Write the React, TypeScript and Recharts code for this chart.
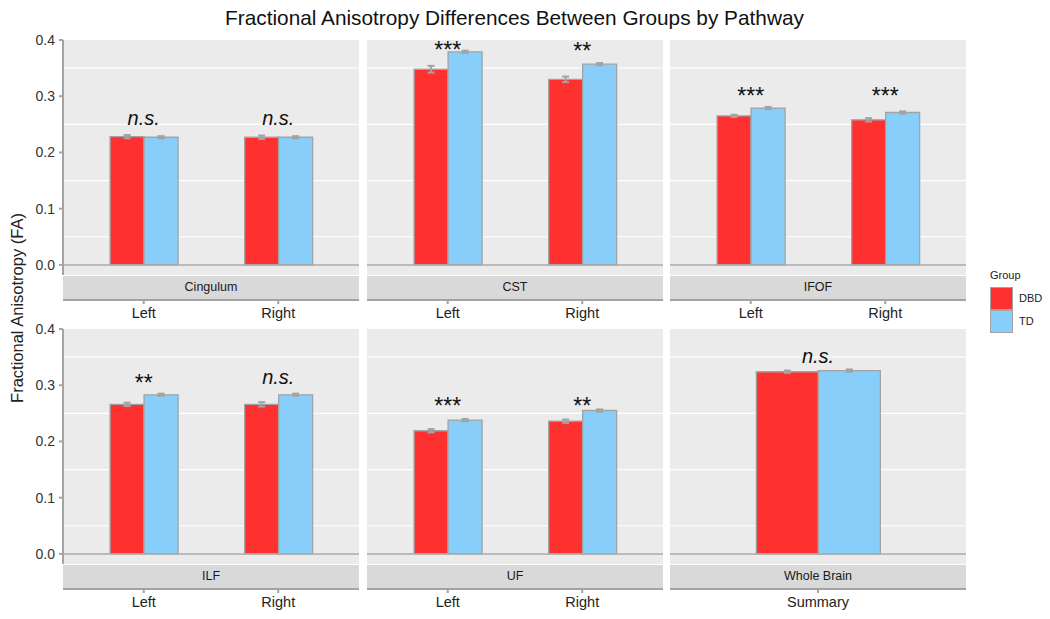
import React from "react";
import {
  Bar,
  BarChart,
  CartesianGrid,
  ErrorBar,
  ReferenceDot,
  ReferenceLine,
  XAxis,
  YAxis,
} from "recharts";

// facet order as in the figure (3 columns, 2 rows)
const PATHWAYS = ["Cingulum", "CST", "IFOF", "ILF", "UF", "Whole Brain"];
const SIDES = [
  ["Left", "Right"],
  ["Left", "Right"],
  ["Left", "Right"],
  ["Left", "Right"],
  ["Left", "Right"],
  ["Summary"],
];
const DBD_MEAN = [
  [0.228, 0.227],
  [0.348, 0.33],
  [0.265, 0.258],
  [0.266, 0.266],
  [0.219, 0.236],
  [0.324],
];
const TD_MEAN = [
  [0.227, 0.227],
  [0.379, 0.357],
  [0.279, 0.271],
  [0.283, 0.283],
  [0.238, 0.255],
  [0.326],
];
const DBD_SE = [
  [0.003, 0.003],
  [0.006, 0.005],
  [0.002, 0.003],
  [0.003, 0.004],
  [0.003, 0.003],
  [0.002],
];
const TD_SE = [
  [0.002, 0.002],
  [0.002, 0.002],
  [0.002, 0.002],
  [0.002, 0.002],
  [0.002, 0.002],
  [0.002],
];
const SIG_LABEL = [
  ["n.s.", "n.s."],
  ["***", "**"],
  ["***", "***"],
  ["**", "n.s."],
  ["***", "**"],
  ["n.s."],
];
const SIG_Y = [
  [0.258, 0.258],
  [0.391, 0.389],
  [0.31, 0.31],
  [0.313, 0.312],
  [0.272, 0.272],
  [0.348],
];
const Y_TICKS = [0, 0.1, 0.2, 0.3, 0.4];
const MINOR_GRID = [0.05, 0.15, 0.25, 0.35];
const GROUPS = ["DBD", "TD"];

const FONT = '"Liberation Sans", Arial, Helvetica, sans-serif';
const RED = "#FF3030";
const BLUE = "#87CEFA";
const OUTLINE = "#A3A3A3";
const PANEL_W = 296;
const PANEL_H = 235;
const COL_X = [63, 367, 670];
const ROW_Y = [40, 329];
const Y_AXIS_W = 63;
const X_AXIS_H = 52;
const TOP_PAD = 10;

function SideTick(props: any) {
  const { x, y, payload } = props;
  return (
    <g>
      <line x1={x} x2={x} y1={y + 25} y2={y + 29} stroke={OUTLINE} strokeWidth={2} />
      <text
        x={x}
        y={y + 38}
        textAnchor="middle"
        dominantBaseline="central"
        fontSize={14.5}
        fontFamily={FONT}
        fill="#222"
      >
        {payload.value}
      </text>
    </g>
  );
}

function SigText(props: any) {
  const { viewBox, text } = props;
  const stars = text.indexOf("*") >= 0;
  const fs = stars ? 23 : 20;
  return (
    <text
      x={viewBox.x}
      y={viewBox.y + (stars ? 0.57 : 0.26) * fs}
      textAnchor="middle"
      fontSize={fs}
      fontStyle={stars ? "normal" : "italic"}
      fontFamily={FONT}
      fill="#111"
    >
      {text}
    </text>
  );
}

function Panel({ idx }: { idx: number }) {
  const col = idx % 3;
  const row = Math.floor(idx / 3);
  const showY = col === 0;
  const single = SIDES[idx].length === 1;
  const data = SIDES[idx].map((side, i) => ({
    side,
    dbd: DBD_MEAN[idx][i],
    td: TD_MEAN[idx][i],
    dbdSe: DBD_SE[idx][i],
    tdSe: TD_SE[idx][i],
  }));
  // ggplot discrete expansion of 0.6 units on each side
  const unit = PANEL_W / (SIDES[idx].length - 1 + 1.2);
  const pad = single ? 0 : unit * 0.1;
  const left = showY ? 0 : COL_X[col];
  const width = showY ? Y_AXIS_W + PANEL_W : PANEL_W;

  return (
    <div style={{ position: "absolute", left, top: ROW_Y[row] - TOP_PAD }}>
      <BarChart
        width={width}
        height={TOP_PAD + PANEL_H + X_AXIS_H}
        data={data}
        margin={{ top: TOP_PAD, right: 0, bottom: 0, left: 0 }}
        barGap={0}
        barCategoryGap={single ? "29.17%" : "25%"}
      >
        <CartesianGrid
          vertical={false}
          horizontalValues={MINOR_GRID}
          stroke="#FFFFFF"
          strokeWidth={1.2}
          fill="#EBEBEB"
        />
        <XAxis
          dataKey="side"
          type="category"
          height={X_AXIS_H}
          padding={{ left: pad, right: pad }}
          axisLine={false}
          tickLine={false}
          tickSize={0}
          tickMargin={0}
          interval={0}
          tick={<SideTick />}
        />
        <YAxis
          hide={!showY}
          width={showY ? Y_AXIS_W : 0}
          domain={[-0.018, 0.4]}
          allowDataOverflow
          ticks={Y_TICKS}
          tickFormatter={(v: number) => v.toFixed(1)}
          axisLine={{ stroke: OUTLINE, strokeWidth: 2 }}
          tickLine={{ stroke: OUTLINE, strokeWidth: 2 }}
          tickSize={4}
          tickMargin={4}
          tick={{ fontSize: 14, fill: "#333", fontFamily: FONT }}
        />
        <ReferenceLine y={0} stroke="#ABABAB" strokeWidth={1.5} />
        <Bar dataKey="dbd" fill={RED} stroke={OUTLINE} strokeWidth={1.3} isAnimationActive={false}>
          <ErrorBar dataKey="dbdSe" width={3.5} stroke={OUTLINE} strokeWidth={2} />
        </Bar>
        <Bar dataKey="td" fill={BLUE} stroke={OUTLINE} strokeWidth={1.3} isAnimationActive={false}>
          <ErrorBar dataKey="tdSe" width={3.5} stroke={OUTLINE} strokeWidth={2} />
        </Bar>
        {SIDES[idx].map((side, i) => (
          <ReferenceDot
            key={side}
            x={side}
            y={SIG_Y[idx][i]}
            r={0}
            fill="none"
            stroke="none"
            label={<SigText text={SIG_LABEL[idx][i]} />}
          />
        ))}
      </BarChart>
      <div
        style={{
          position: "absolute",
          left: showY ? Y_AXIS_W : 0,
          top: TOP_PAD + PANEL_H + 1,
          width: PANEL_W,
          height: 23,
          lineHeight: "23px",
          background: "#D9D9D9",
          borderBottom: `2px solid ${OUTLINE}`,
          textAlign: "center",
          fontSize: 12.5,
          color: "#1A1A1A",
        }}
      >
        {PATHWAYS[idx]}
      </div>
    </div>
  );
}

export default function App() {
  return (
    <div
      style={{
        position: "absolute",
        left: 0,
        top: 0,
        width: 1050,
        height: 619,
        background: "#fff",
        fontFamily: FONT,
        overflow: "hidden",
      }}
    >
      <div
        style={{
          position: "absolute",
          left: COL_X[0],
          top: 6,
          width: COL_X[2] + PANEL_W - COL_X[0],
          textAlign: "center",
          fontSize: 20.8,
          lineHeight: "24px",
          color: "#111",
        }}
      >
        Fractional Anisotropy Differences Between Groups by Pathway
      </div>
      <div
        style={{
          position: "absolute",
          left: 17 - 160,
          top: 308 - 11,
          width: 320,
          height: 22,
          lineHeight: "22px",
          textAlign: "center",
          fontSize: 16.5,
          color: "#222",
          transform: "rotate(-90deg)",
        }}
      >
        Fractional Anisotropy (FA)
      </div>
      {PATHWAYS.map((p, i) => (
        <Panel key={p} idx={i} />
      ))}
      <div style={{ position: "absolute", left: 990, top: 267, fontSize: 11, lineHeight: "16px", color: "#222" }}>
        Group
      </div>
      {GROUPS.map((g, i) => (
        <React.Fragment key={g}>
          <div
            style={{
              position: "absolute",
              left: 990,
              top: 287 + i * 23,
              width: 23,
              height: 23,
              boxSizing: "border-box",
              border: `1.5px solid ${OUTLINE}`,
              background: i === 0 ? RED : BLUE,
            }}
          />
          <div
            style={{
              position: "absolute",
              left: 1019,
              top: 290 + i * 23,
              fontSize: 11,
              lineHeight: "16px",
              color: "#222",
            }}
          >
            {g}
          </div>
        </React.Fragment>
      ))}
    </div>
  );
}
